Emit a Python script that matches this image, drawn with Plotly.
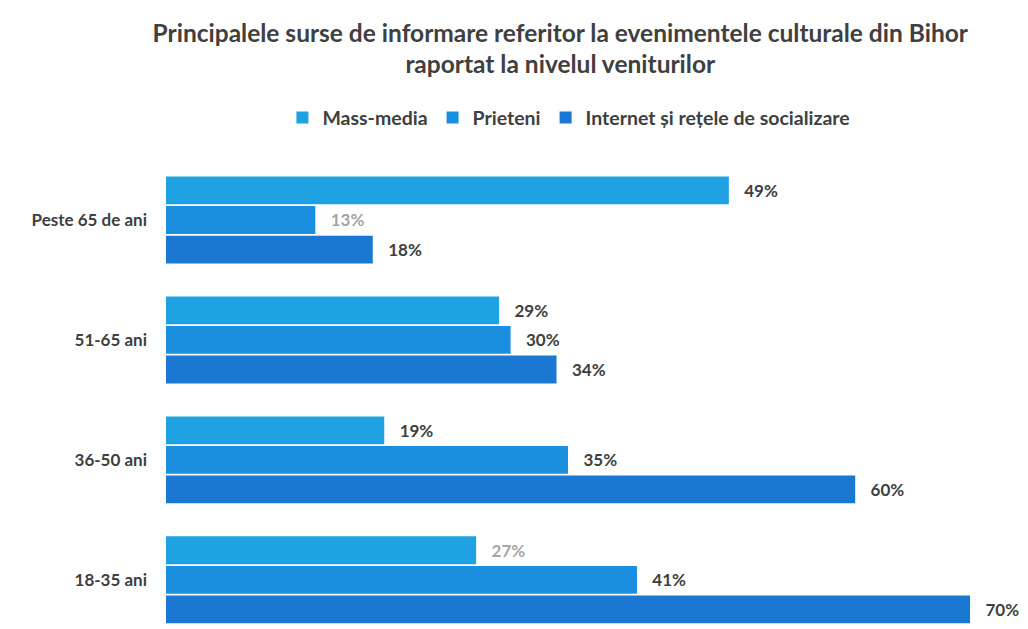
import plotly.graph_objects as go

# Age groups (top to bottom) and share of respondents per information source
categories = ["Peste 65 de ani", "51-65 ani", "36-50 ani", "18-35 ani"]
mass_media = [49, 29, 19, 27]
prieteni = [13, 30, 35, 41]
internet = [18, 34, 60, 70]

# value-label colours per bar (a few labels are printed in a lighter grey)
mass_media_label_colors = ["#404040", "#404040", "#404040", "#a6a6a6"]
prieteni_label_colors = ["#a6a6a6", "#404040", "#404040", "#404040"]
internet_label_colors = ["#404040", "#404040", "#404040", "#404040"]

series = [
    ("Mass-media", mass_media, "#1ea2e2", mass_media_label_colors),
    ("Prieteni", prieteni, "#1a8fe0", prieteni_label_colors),
    ("Internet și rețele de socializare", internet, "#1a78d2", internet_label_colors),
]

fig = go.Figure()
for name, values, color, label_colors in series:
    fig.add_trace(go.Bar(
        name=name,
        y=categories,
        x=values,
        orientation="h",
        marker=dict(color=color, line=dict(width=0)),
        text=[f"\u00a0\u00a0\u00a0{v}%" for v in values],
        textposition="outside",
        textfont=dict(family="Lato", size=17, color=label_colors, weight="bold"),
        cliponaxis=False,
    ))

fig.update_layout(
    width=1028,
    height=629,
    barmode="group",
    bargap=0.26,
    bargroupgap=0.06,
    paper_bgcolor="white",
    plot_bgcolor="white",
    margin=dict(l=166, r=12, t=160, b=0),
    font=dict(family="Lato", color="#404040"),
    title=dict(
        text="Principalele surse de informare referitor la evenimentele culturale din Bihor<br>raportat la nivelul veniturilor",
        x=0.545, xanchor="center",
        yref="container",
        y=0.934, yanchor="middle",
        font=dict(family="Lato", size=24.5, color="#404040", weight="bold"),
    ),
    legend=dict(
        orientation="h",
        x=0.474, xanchor="center",
        y=1.09, yanchor="middle",
        font=dict(family="Lato", size=19.5, color="#404040", weight="bold"),
        itemwidth=30,
        traceorder="normal",
    ),
    xaxis=dict(
        range=[0, 74],
        showgrid=False,
        zeroline=False,
        showticklabels=False,
        showline=False,
    ),
    yaxis=dict(
        autorange=False,
        range=[3.41, -0.5],
        showgrid=False,
        showline=False,
        ticks="",
        ticklabelstandoff=18,
        tickfont=dict(family="Lato", size=17, color="#404040", weight="bold"),
    ),
)

fig.write_html("out.html")
